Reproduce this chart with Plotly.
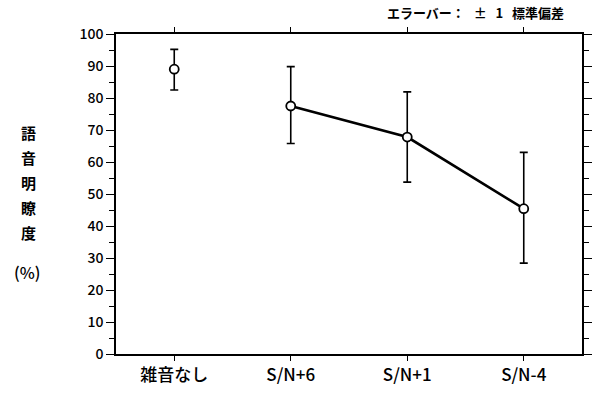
import plotly.graph_objects as go

categories = ["雑音なし", "S/N+6", "S/N+1", "S/N-4"]
means = [89.0, 77.5, 67.8, 45.4]
sd_plus = [6.2, 12.3, 14.1, 17.6]
sd_minus = [6.5, 11.7, 14.1, 17.0]
y_ticks = [0, 10, 20, 30, 40, 50, 60, 70, 80, 90, 100]
y_title_chars = ["語", "音", "明", "瞭", "度"]
y_title_unit = "(%)"
note_text = "エラーバー：&nbsp;&nbsp;&nbsp;±&nbsp;&nbsp;&nbsp;1&nbsp;&nbsp;&nbsp;標準偏差"

FONT = "Noto Sans CJK JP"
W, H = 600, 394
ML, MR, MT, MB = 116, 18, 34, 40
x_idx = list(range(len(categories)))

fig = go.Figure()
fig.add_trace(go.Scatter(
    x=x_idx[1:], y=means[1:], mode="lines",
    line=dict(color="black", width=2.6), showlegend=False, hoverinfo="skip"))
fig.add_trace(go.Scatter(
    x=x_idx, y=means, mode="markers",
    marker=dict(symbol="circle", size=9, color="white",
                line=dict(color="black", width=1.8)),
    error_y=dict(type="data", symmetric=False, array=sd_plus, arrayminus=sd_minus,
                 color="black", thickness=1.6, width=4),
    showlegend=False))

pw = W - ML - MR
ph = H - MT - MB

def px_to_paper(xp, yp):
    return (xp - ML) / pw, (H - MB - yp) / ph

annotations = []
for i, ch in enumerate(y_title_chars):
    ax, ay = px_to_paper(28, 132 + 25 * i)
    annotations.append(dict(text="<b>%s</b>" % ch, x=ax, y=ay, xref="paper", yref="paper",
                            xanchor="center", yanchor="middle", showarrow=False,
                            font=dict(family=FONT, size=15, color="black")))
ax, ay = px_to_paper(27, 272)
annotations.append(dict(text=y_title_unit, x=ax, y=ay, xref="paper", yref="paper",
                        xanchor="center", yanchor="middle", showarrow=False,
                        font=dict(family=FONT, size=16, weight=500, color="black")))
ax, ay = px_to_paper(566, 13)
annotations.append(dict(text="<b>%s</b>" % note_text, x=ax, y=ay, xref="paper", yref="paper",
                        xanchor="right", yanchor="middle", showarrow=False,
                        font=dict(family=FONT, size=13, color="black")))

fig.update_layout(
    width=W, height=H,
    margin=dict(l=ML, r=MR, t=MT, b=MB, autoexpand=False),
    paper_bgcolor="white", plot_bgcolor="white",
    font=dict(family=FONT, color="black"),
    xaxis=dict(range=[-0.5, 3.5], tickmode="array", tickvals=x_idx, ticktext=categories,
               showline=True, linecolor="black", linewidth=1.5, mirror="ticks",
               ticks="outside", ticklen=5, tickwidth=1.2, tickcolor="black",
               showgrid=False, zeroline=False, automargin=False,
               tickfont=dict(family=FONT, size=17, weight=500, color="black")),
    yaxis=dict(range=[0, 100], tickmode="array", tickvals=y_ticks,
               showline=True, linecolor="black", linewidth=1.5, mirror="ticks",
               ticks="outside", ticklen=8, tickwidth=1.2, tickcolor="black",
               minor=dict(dtick=5, ticks="outside", ticklen=5, tickwidth=1.2, tickcolor="black"),
               showgrid=False, zeroline=False, automargin=False,
               tickfont=dict(family=FONT, size=14, weight=500, color="black")),
    annotations=annotations,
)

fig.write_html("out.html", config={"displayModeBar": False},
               post_script="document.body.style.margin='0';document.body.style.overflow='hidden';")
